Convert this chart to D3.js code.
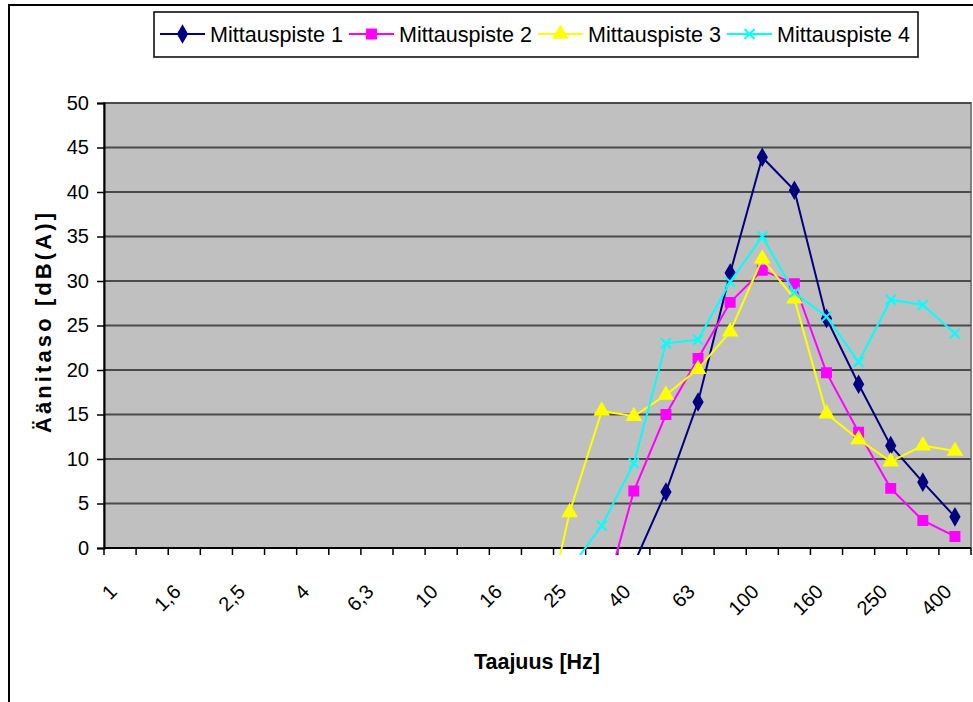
<!DOCTYPE html>
<html>
<head>
<meta charset="utf-8">
<script src="https://cdn.jsdelivr.net/npm/d3@7"></script>
<style>
  html, body { margin: 0; padding: 0; background: #fff; }
  svg { display: block; font-family: "Liberation Sans", Arial, sans-serif; }
</style>
</head>
<body>
<svg id="chart" width="973" height="702"></svg>
<script>
// Third-octave frequency bands (Hz)
const categories = ["1","1,25","1,6","2","2,5","3,15","4","5","6,3","8","10","12,5","16","20","25","31,5","40","50","63","80","100","125","160","200","250","315","400"];

// Sound level per band, dB(A); null where no level is plotted
const mittauspiste1 = [null,null,null,null,null,null,null,null,null,null,null,null,null,null,null,null,-1.8,6.3,16.4,30.9,43.9,40.2,25.8,18.4,11.5,7.4,3.5];
const mittauspiste2 = [null,null,null,null,null,null,null,null,null,null,null,null,null,null,null,-6.7,6.4,15.0,21.3,27.6,31.2,29.7,19.7,13.0,6.7,3.1,1.3];
const mittauspiste3 = [null,null,null,null,null,null,null,null,null,null,null,null,null,-12.3,4.0,15.4,14.8,17.2,20.1,24.3,32.5,28.0,15.1,12.2,9.7,11.5,10.9];
const mittauspiste4 = [null,null,null,null,null,null,null,null,null,null,null,null,null,null,-2.4,2.5,9.5,23.0,23.4,29.9,35.0,28.7,26.0,20.9,27.9,27.3,24.1];

const seriesNames = ["Mittauspiste 1","Mittauspiste 2","Mittauspiste 3","Mittauspiste 4"];
const yTicks = [0,5,10,15,20,25,30,35,40,45,50];

const series = [
  { name: seriesNames[0], values: mittauspiste1, color: "#000080", marker: "diamond" },
  { name: seriesNames[1], values: mittauspiste2, color: "#FF00FF", marker: "square" },
  { name: seriesNames[2], values: mittauspiste3, color: "#FFFF00", marker: "triangle" },
  { name: seriesNames[3], values: mittauspiste4, color: "#00FFFF", marker: "cross" }
];

const svg = d3.select("#chart");
const plot = { left: 104, right: 971, top: 103, bottom: 548 };

const x = d3.scaleBand().domain(categories).range([plot.left, plot.right]).padding(0);
const y = d3.scaleLinear().domain([0, 50]).range([plot.bottom, plot.top]);
const cx = c => x(c) + x.bandwidth() / 2;

// Outer chart frame
svg.append("rect").attr("x", 9).attr("y", 5).attr("width", 1000).attr("height", 760)
  .attr("fill", "#fff").attr("stroke", "#000").attr("stroke-width", 2);

// Plot area
svg.append("rect").attr("x", plot.left).attr("y", plot.top)
  .attr("width", plot.right - plot.left).attr("height", plot.bottom - plot.top)
  .attr("fill", "#C0C0C0").attr("stroke", "#808080").attr("stroke-width", 2);

// Horizontal gridlines
svg.append("g").selectAll("line").data(yTicks.filter(d => d > 0)).join("line")
  .attr("x1", plot.left).attr("x2", plot.right)
  .attr("y1", d => y(d)).attr("y2", d => y(d))
  .attr("stroke", "#4a4a4a").attr("stroke-width", 2);

// Y axis
const yAxis = svg.append("g").attr("transform", `translate(${plot.left},0)`)
  .call(d3.axisLeft(y).tickValues(yTicks).tickSize(7).tickPadding(8).tickFormat(d3.format("d")));
yAxis.select(".domain").attr("stroke", "#000").attr("stroke-width", 2);
yAxis.selectAll(".tick line").attr("stroke", "#000").attr("stroke-width", 1.5);
yAxis.selectAll(".tick text").attr("font-size", 20).attr("font-family", "Liberation Sans, Arial, sans-serif").attr("fill", "#000");

// X axis: ticks at band boundaries, labels on every other band
const xg = svg.append("g");
xg.append("line").attr("x1", plot.left).attr("x2", plot.right)
  .attr("y1", plot.bottom).attr("y2", plot.bottom).attr("stroke", "#000").attr("stroke-width", 2);
const bounds = categories.map(c => x(c)).concat([plot.right]);
xg.selectAll("line.tk").data(bounds).join("line").attr("class", "tk")
  .attr("x1", d => d).attr("x2", d => d)
  .attr("y1", plot.bottom).attr("y2", plot.bottom + 7)
  .attr("stroke", "#000").attr("stroke-width", 1.5);
xg.selectAll("text").data(categories.filter((c, i) => i % 2 === 0)).join("text")
  .attr("transform", c => `translate(${cx(c) - 7},588) rotate(-45)`)
  .attr("text-anchor", "end").attr("dy", "0.35em")
  .attr("font-size", 20).attr("fill", "#000")
  .text(c => c);

// Series lines and markers, clipped just below the axis
svg.append("clipPath").attr("id", "plotclip").append("rect")
  .attr("x", plot.left).attr("y", plot.top - 10)
  .attr("width", plot.right - plot.left).attr("height", plot.bottom - plot.top + 17);

const line = d3.line()
  .defined(d => d.v != null)
  .x(d => cx(d.c)).y(d => y(d.v));

const markerPath = {
  diamond: d3.symbol(d3.symbolDiamond, 70)(),
  square: d3.symbol(d3.symbolSquare, 80)(),
  triangle: d3.symbol(d3.symbolTriangle, 75)(),
  cross: "M-5,-5L5,5M-5,5L5,-5"
};

const gSeries = svg.append("g").attr("clip-path", "url(#plotclip)");
series.forEach(s => {
  const pts = categories.map((c, i) => ({ c, v: s.values[i] }));
  gSeries.append("path").datum(pts).attr("d", line)
    .attr("fill", "none").attr("stroke", s.color).attr("stroke-width", 2);
  gSeries.append("g").selectAll("path").data(pts.filter(d => d.v != null)).join("path")
    .attr("transform", d => `translate(${cx(d.c)},${y(d.v)})`)
    .attr("d", markerPath[s.marker])
    .attr("fill", s.marker === "cross" ? "none" : s.color)
    .attr("stroke", s.color).attr("stroke-width", 2);
});

// Legend
const legend = svg.append("g");
legend.append("rect").attr("x", 154).attr("y", 12).attr("width", 764).attr("height", 45)
  .attr("fill", "#fff").attr("stroke", "#000").attr("stroke-width", 1.5);
series.forEach((s, i) => {
  const x0 = 160 + i * 189;
  const gy = 34;
  legend.append("line").attr("x1", x0).attr("x2", x0 + 45).attr("y1", gy).attr("y2", gy)
    .attr("stroke", s.color).attr("stroke-width", 2);
  legend.append("path").attr("transform", `translate(${x0 + 22.5},${gy})`)
    .attr("d", markerPath[s.marker])
    .attr("fill", s.marker === "cross" ? "none" : s.color)
    .attr("stroke", s.color).attr("stroke-width", 2);
  legend.append("text").attr("x", x0 + 50).attr("y", gy).attr("dy", "0.36em")
    .attr("font-size", 22).attr("textLength", 133).attr("lengthAdjust", "spacingAndGlyphs")
    .attr("fill", "#000").text(s.name);
});

// Axis titles
svg.append("text").attr("x", 537).attr("y", 669).attr("text-anchor", "middle")
  .attr("font-size", 22).attr("font-weight", "bold")
  .attr("textLength", 126).attr("lengthAdjust", "spacingAndGlyphs")
  .text("Taajuus [Hz]");
svg.append("text").attr("transform", "translate(51,323) rotate(-90)").attr("text-anchor", "middle")
  .attr("font-size", 22).attr("font-weight", "bold")
  .attr("textLength", 220).attr("lengthAdjust", "spacing")
  .text("Äänitaso [dB(A)]");
</script>
</body>
</html>
